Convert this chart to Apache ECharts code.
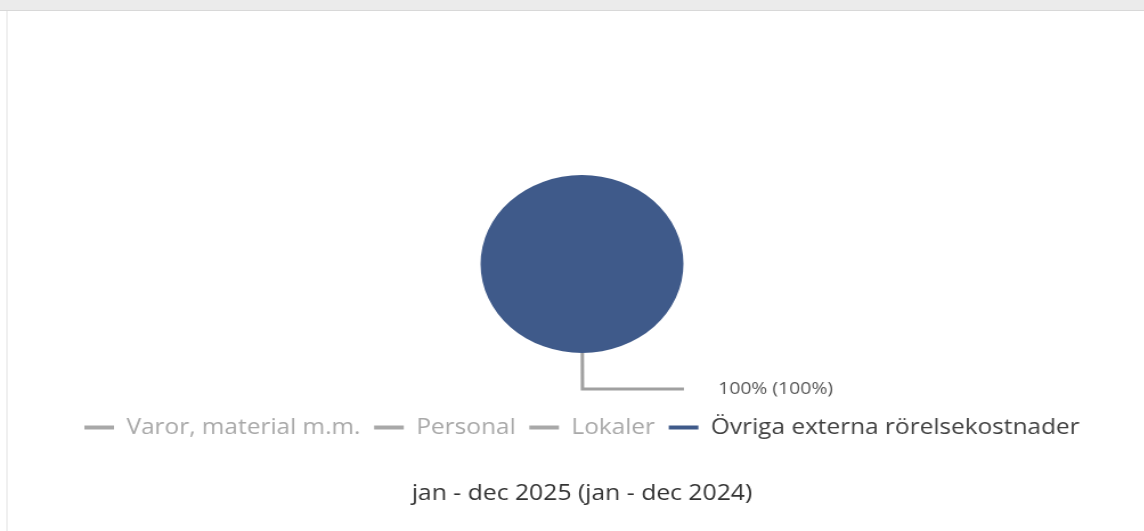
<!DOCTYPE html>
<html>
<head>
<meta charset="utf-8">
<script src="https://cdn.jsdelivr.net/npm/echarts@6/dist/echarts.min.js"></script>
<style>
  html, body { margin: 0; padding: 0; background: #fff; }
  #wrap { position: relative; width: 1144px; height: 531px; overflow: hidden; }
  #topbar { position: absolute; left: 0; top: 0; width: 1144px; height: 10px; background: #ebebeb; border-bottom: 1px solid #d8d8d8; }
  #leftline { position: absolute; left: 6px; top: 11px; width: 2px; height: 520px; background: #f0f0f0; }
  #chart { position: absolute; left: 0; top: 0; width: 1021px; height: 531px; transform: scaleX(1.14); transform-origin: 0 0; }
</style>
</head>
<body>
<div id="wrap">
  <div id="chart"></div>
  <div id="topbar"></div>
  <div id="leftline"></div>
</div>
<script>
const categories = ['Varor, material m.m.', 'Personal', 'Lokaler', 'Övriga externa rörelsekostnader'];
const values2025 = [0, 0, 0, 100];
const values2024 = [0, 0, 0, 100];
const colors = ['#9e9e9e', '#9e9e9e', '#9e9e9e', '#3f5a8a'];
const periodText = 'jan - dec 2025 (jan - dec 2024)';

const total2024 = values2024.reduce((a, b) => a + b, 0);
const selected = {};
categories.forEach((c, i) => { selected[c] = values2025[i] > 0; });

const chart = echarts.init(document.getElementById('chart'), null, { renderer: 'canvas' });
chart.setOption({
  animation: false,
  color: colors,
  title: {
    text: periodText,
    left: 'center',
    top: 478,
    textStyle: { fontFamily: 'Open Sans', fontSize: 21.7, fontWeight: 'normal', color: '#333' }
  },
  legend: {
    data: categories,
    selected: selected,
    left: 'center',
    top: 412,
    icon: 'rect',
    itemWidth: 26,
    itemHeight: 4,
    itemGap: 12,
    inactiveColor: '#a8a8a8',
    inactiveBorderColor: '#a8a8a8',
    textStyle: { fontFamily: 'Open Sans', fontSize: 21.4, color: '#404040', padding: [0, 0, 0, 6] }
  },
  series: [{
    type: 'pie',
    center: ['50%', 264],
    radius: 89,
    startAngle: 90.2,
    clockwise: true,
    minAngle: 0,
    data: categories.map((c, i) => ({ name: c, value: values2025[i], prev: values2024[i] })),
    itemStyle: { borderWidth: 0 },
    label: {
      show: true,
      position: 'outside',
      fontFamily: 'Open Sans',
      fontSize: 17,
      color: '#555',
      padding: [0, 0, 0, 25],
      formatter: function (p) {
        const prev = total2024 ? Math.round(p.data.prev / total2024 * 100) : 0;
        return Math.round(p.percent) + '% (' + prev + '%)';
      }
    },
    labelLine: {
      show: true,
      length: 36,
      length2: 89,
      lineStyle: { color: '#a0a0a0', width: 3 }
    },
    emphasis: { disabled: true }
  }]
});
</script>
</body>
</html>
